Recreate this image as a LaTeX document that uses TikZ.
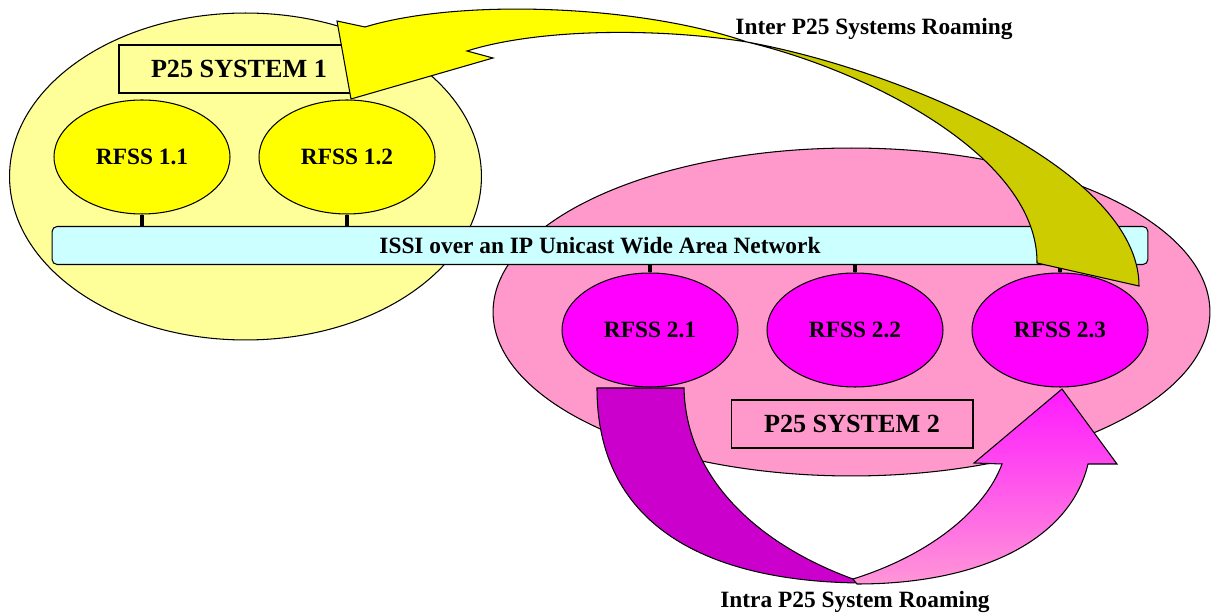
\documentclass[tikz,border=0pt]{standalone}
\usepackage{fontspec}
\setmainfont{Liberation Serif}
\usetikzlibrary{shapes.geometric}
\definecolor{lightyel}{RGB}{255,255,153}
\definecolor{sysyel}{RGB}{255,255,0}
\definecolor{darkyel}{RGB}{204,204,0}
\definecolor{syspink}{RGB}{255,153,204}
\definecolor{rfsspink}{RGB}{255,0,255}
\definecolor{darkmag}{RGB}{204,0,204}
\definecolor{headmag}{RGB}{255,25,255}
\definecolor{tailpink}{RGB}{255,150,215}
\definecolor{buscol}{RGB}{204,255,255}
\begin{document}
\begin{tikzpicture}[x=0.02cm,y=-0.02cm,
  outline/.style={draw=black, line width=0.6pt},
  sysell/.style={ellipse, outline, inner sep=0pt},
  rfss/.style={ellipse, outline, inner sep=0pt, minimum width=3.52cm, minimum height=2.28cm,
    font=\bfseries\fontsize{13.3}{15}\selectfont},
  titlebox/.style={rectangle, outline, inner sep=0pt, minimum height=0.96cm,
    font=\bfseries\fontsize{14.9}{17}\selectfont},
  busbox/.style={rectangle, outline, rounded corners=0.1cm, fill=buscol, inner sep=0pt,
    font=\bfseries\fontsize{13.3}{15}\selectfont},
  roamlabel/.style={inner sep=0pt, anchor=base, font=\bfseries\fontsize{13.3}{15}\selectfont},
  link/.style={line width=2pt},
  blockarrow/.style={outline, line join=miter}
]
\useasboundingbox (0,0) rectangle (1211,614);

% systems
\node[sysell, fill=lightyel, minimum width=9.44cm, minimum height=6.54cm] (sys1) at (245.5,176.5) {};
\node[sysell, fill=syspink, minimum width=14.34cm, minimum height=6.56cm] (sys2) at (851.5,312) {};

% bus
\node[busbox, minimum width=21.92cm, minimum height=0.76cm] (bus) at (600,245.5)
  {ISSI over an IP Unicast Wide Area Network};

% RFSS nodes
\node[rfss, fill=sysyel] (r11) at (142,157) {RFSS 1.1};
\node[rfss, fill=sysyel] (r12) at (347,157) {RFSS 1.2};
\node[rfss, fill=rfsspink] (r21) at (650,330) {RFSS 2.1};
\node[rfss, fill=rfsspink] (r22) at (855,330) {RFSS 2.2};
\node[rfss, fill=rfsspink] (r23) at (1060,330) {RFSS 2.3};

% links to the bus
\draw[link] (r11.south) -- (r11.south |- bus.north);
\draw[link] (r12.south) -- (r12.south |- bus.north);
\draw[link] (bus.south -| r21.north) -- (r21.north);
\draw[link] (bus.south -| r22.north) -- (r22.north);
\draw[link] (bus.south -| r23.north) -- (r23.north);

% system titles
\node[titlebox, fill=lightyel, minimum width=4.8cm] (t1) at (239,69) {P25 SYSTEM 1};
\node[titlebox, fill=syspink, minimum width=4.84cm] (t2) at (852,424) {P25 SYSTEM 2};

% inter-system roaming arrow: back (dark) part
\path[blockarrow, fill=darkyel]
  (747,42) .. controls (900,70) and (1139,170) .. (1139,286)
  -- (1037,263)
  .. controls (1038,158) and (872,72) .. (747,42)
  -- cycle;
% inter-system roaming arrow: front part with head
\path[blockarrow, fill=sysyel]
  (337,21) -- (365,27)
  .. controls (460,-2) and (640,5) .. (747,42)
  .. controls (660,28) and (540,28) .. (467,51)
  -- (493,58) -- (351,99) -- cycle;

% intra-system roaming arrow: back (dark) part
\path[blockarrow, fill=darkmag]
  (597,388) -- (684,388)
  .. controls (686,480) and (760,545) .. (853,579)
  -- (866,583)
  .. controls (730,583) and (597,540) .. (597,388)
  -- cycle;
% intra-system roaming arrow: front part with head
\path[blockarrow, top color=headmag, bottom color=tailpink]
  (853,579)
  .. controls (930,555) and (985,510) .. (1002,464)
  -- (974,463) -- (1062,389) -- (1117,464) -- (1088,464)
  .. controls (1070,540) and (980,584) .. (857,584)
  -- cycle;

% labels
\node[roamlabel] (inter) at (874,34.5) {Inter P25 Systems Roaming};
\node[roamlabel] (intra) at (855,608) {Intra P25 System Roaming};
\end{tikzpicture}
\end{document}
